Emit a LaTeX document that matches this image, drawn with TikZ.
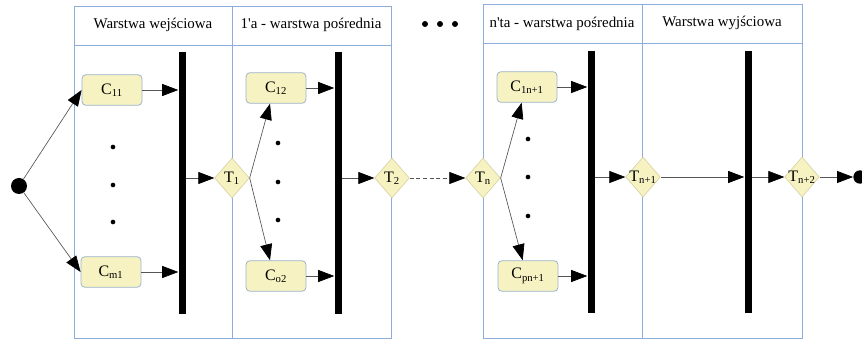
\documentclass[tikz,border=0pt]{standalone}
\usepackage{fontspec}
\setmainfont{Liberation Serif}
\usepackage{xcolor}
\usepackage{tikz}
\usetikzlibrary{arrows.meta, positioning, shapes.geometric}
\definecolor{laneframe}{HTML}{8DAEDA}
\definecolor{cellfill}{HTML}{F6F2C2}
\definecolor{cellframe}{HTML}{9CB4CC}
\definecolor{gateframe}{HTML}{D8D3A0}
\definecolor{linkgray}{HTML}{555555}

\begin{document}
\begin{tikzpicture}[x=0.75pt, y=-0.75pt,
    every node/.style={font=\fontsize{12}{14}\selectfont},
    lane/.style={draw=laneframe, line width=0.6pt},
    lanehead/.style={font=\fontsize{11.2}{13}\selectfont},
    cellbox/.style={
        rectangle, rounded corners=3pt,
        draw=cellframe, line width=0.6pt,
        fill=cellfill,
        minimum width=45pt, minimum height=23pt, inner sep=0pt,
    },
    gate/.style={
        diamond, draw=gateframe, fill=cellfill, line width=0.5pt,
        minimum width=26pt, minimum height=30pt, inner sep=0pt,
    },
    syncbar/.style={
        rectangle, fill=black, minimum width=5.25pt,
        minimum height=197pt, inner sep=0pt,
    },
    dotpt/.style={circle, fill=black, inner sep=0pt, minimum size=3.5pt},
    terminal/.style={circle, fill=black, inner sep=0pt},
    flowlink/.style={
        draw=linkgray, line width=0.5pt,
        -{Triangle[length=12pt, width=9pt, color=black]},
    },
]
\useasboundingbox (0,0) rectangle (862,341);

% ── Lanes ──────────────────────────────────────────────────────────────
\draw[lane] (74,6) rectangle (232,338);
\draw[lane] (74,45) -- (232,45);
\draw[lane] (232,6) rectangle (391,338);
\draw[lane] (232,45) -- (391,45);
\draw[lane] (483,4) rectangle (642,338);
\draw[lane] (483,43) -- (642,43);
\draw[lane] (642,4) rectangle (802,338);
\draw[lane] (642,43) -- (802,43);

\node[lanehead] (h1) at (153,25) {Warstwa wejściowa};
\node[lanehead] (h2) at (311,25) {1\textquotesingle a - warstwa pośrednia};
\node[lanehead] (h3) at (562,24) {n\textquotesingle ta - warstwa pośrednia};
\node[lanehead] (h4) at (722,23) {Warstwa wyjściowa};

\node[dotpt, minimum size=4.5pt] (hd1) at (425,24) {};
\node[dotpt, minimum size=4.5pt] (hd2) at (440,24) {};
\node[dotpt, minimum size=4.5pt] (hd3) at (455,24) {};

% ── Bars ───────────────────────────────────────────────────────────────
\node[syncbar] (bar1) at (182,183) {};
\node[syncbar] (bar2) at (338,183) {};
\node[syncbar] (bar3) at (591,182) {};
\node[syncbar] (bar4) at (748,182) {};

% ── Cells ──────────────────────────────────────────────────────────────
\node[cellbox] (c11)  at (112,90)  {C\textsubscript{11}};
\node[cellbox] (cm1)  at (111,272) {C\textsubscript{m1}};
\node[cellbox] (c12)  at (276,88)  {C\textsubscript{12}};
\node[cellbox] (co2)  at (276,276) {C\textsubscript{o2}};
\node[cellbox] (c1n)  at (527,87)  {C\textsubscript{1n+1}};
\node[cellbox] (cpn)  at (528,276) {C\textsubscript{pn+1}};

\foreach \y in {147,185,222} \node[dotpt] (d1-\y) at (113,\y) {};
\foreach \y in {143,182,220} \node[dotpt] (d2-\y) at (278,\y) {};
\foreach \y in {139,177,216} \node[dotpt] (d3-\y) at (528,\y) {};

% ── Gates ──────────────────────────────────────────────────────────────
\node[gate] (t1)  at (232,178) {\makebox[0pt]{T\textsubscript{1}}};
\node[gate] (t2)  at (392,178) {\makebox[0pt]{T\textsubscript{2}}};
\node[gate] (tn)  at (483,178) {\makebox[0pt]{T\textsubscript{n}}};
\node[gate] (tn1) at (643,177) {\makebox[0pt]{T\textsubscript{n+1}}};
\node[gate] (tn2) at (802,177) {\makebox[0pt]{T\textsubscript{n+2}}};

\node[terminal, minimum size=12pt] (start) at (19,186) {};
\node[terminal, minimum size=10pt] (stop) at (860,177) {};

% ── Links ──────────────────────────────────────────────────────────────
\draw[flowlink] (start) -- (c11.west);
\draw[flowlink] (start) -- (cm1.west);
\draw[flowlink] (c11.east) -- (c11.east -| bar1.west);
\draw[flowlink] (cm1.east) -- (cm1.east -| bar1.west);
\draw[flowlink] (t1.west -| bar1.east) -- (t1.west);

\draw[flowlink] (t1.east) -- ([xshift=-4.5pt]c12.south);
\draw[flowlink] (t1.east) -- ([xshift=-4.5pt]co2.north);
\draw[flowlink] (c12.east) -- (c12.east -| bar2.west);
\draw[flowlink] (co2.east) -- (co2.east -| bar2.west);
\draw[flowlink] (t2.west -| bar2.east) -- (t2.west);

\draw[flowlink, dash pattern=on 3pt off 2pt] (t2.east) -- (tn.west);

\draw[flowlink] (tn.east) -- ([xshift=-4pt]c1n.south);
\draw[flowlink] (tn.east) -- ([xshift=-4pt]cpn.north);
\draw[flowlink] (c1n.east) -- (c1n.east -| bar3.west);
\draw[flowlink] (cpn.east) -- (cpn.east -| bar3.west);
\draw[flowlink] (tn1.west -| bar3.east) -- (tn1.west);

\draw[flowlink] (tn1.east) -- (tn1.east -| bar4.west);
\draw[flowlink] (tn2.west -| bar4.east) -- (tn2.west);
\draw[flowlink] (tn2.east) -- (stop.west);

\end{tikzpicture}
\end{document}
